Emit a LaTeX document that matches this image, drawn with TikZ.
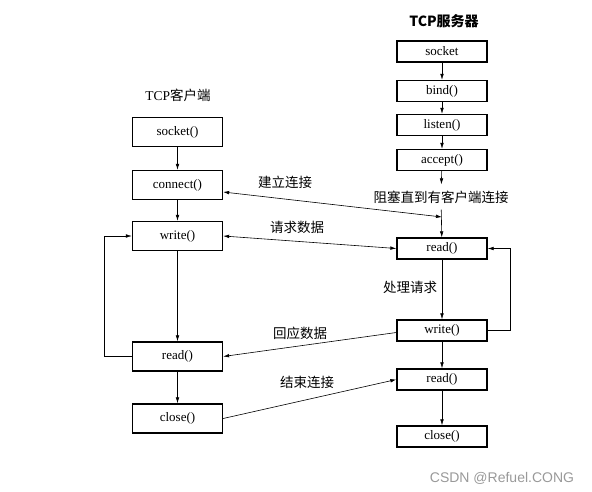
\documentclass[tikz,border=0pt]{standalone}
\usepackage{fontspec}
\setmainfont{Liberation Serif}
\setsansfont{Liberation Sans}
\newfontfamily\cjk{Noto Sans CJK SC}
\usepackage{tikz}
\usetikzlibrary{arrows.meta, positioning, calc}

\begin{document}
\begin{tikzpicture}[x=1pt, y=-1pt, >={Latex[length=6pt,width=3.6pt]}, line width=0.6pt,
        cbox/.style={draw, line width=1.3pt, minimum width=90pt, minimum height=29pt, inner sep=0pt, font=\fontsize{13}{15}\selectfont},
        sbox/.style={cbox, minimum height=21pt},
        lbl/.style={font=\cjk\fontsize{13.5}{15}\selectfont, inner sep=0pt}]
        \useasboundingbox (0,0) rectangle (592,492);
        % titles
        \node (tserv) at (444,21) {\cjk\bfseries\fontsize{14}{16}\selectfont TCP服务器};
        \node (tcli) at (178,95) {\fontsize{13.5}{16}\selectfont TCP{\cjk 客户端}};
        % client
        \node[cbox] (cs) at (177.5,132) {socket()};
        \node[cbox] (cc) at (177.5,185) {connect()};
        \node[cbox] (cw) at (177.5,236) {write()};
        \node[cbox] (cr) at (177.5,356.5) {read()};
        \node[cbox] (ccl) at (177.5,418.5) {close()};
        % server
        \node[sbox] (ss) at (442,51.5) {socket};
        \node[sbox] (sb) at (442,91) {bind()};
        \node[sbox] (sl) at (442,125) {listen()};
        \node[sbox] (sa) at (442,160) {accept()};
        \node[lbl, inner sep=6pt] (blk) at (441,197) {阻塞直到有客户端连接};
        \node[sbox] (sr) at (442,248.5) {read()};
        \node[sbox] (sw) at (442,330.5) {write()};
        \node[sbox] (sr2) at (442,379.5) {read()};
        \node[sbox] (scl) at (442,436.5) {close()};
        \coordinate (join) at (442,217);
        % labels
        \node[lbl] (l1) at (285,182) {建立连接};
        \node[lbl] (l2) at (297,227) {请求数据};
        \node[lbl] (l3) at (410,287) {处理请求};
        \node[lbl] (l4) at (300,333) {回应数据};
        \node[lbl] (l5) at (307,382) {结束连接};
        \node[font=\sffamily\fontsize{14}{16}\selectfont, text=black!40] (mark) at (502,478) {CSDN @Refuel.CONG};

        \draw[->] (cs) -- (cc);
        \draw[->] (cc) -- (cw);
        \draw[->] (cw) -- (cr);
        \draw[->] (cr) -- (ccl);
        \draw[->] (cr.west) -- ++(-28,0) |- (cw.west);

        \draw[->] (ss) -- (sb);
        \draw[->] (sb) -- (sl);
        \draw[->] (sl) -- (sa);
        \draw[->] (sa) -- (blk);
        \draw[->] (blk) -- (sr);
        \draw[->] (sr) -- (sw);
        \draw[->] (sw) -- (sr2);
        \draw[->] (sr2) -- (scl);
        \draw[->] (sw.east) -- ++(23,0) |- (sr.east);

        \draw[<->] ([yshift=-7pt]cc.east) -- (join);
        \draw[<->] (cw.east) -- (sr.west);
        \draw[->] ([yshift=-2pt]sw.west) -- (cr.east);
        \draw[->] (ccl.east) -- (sr2.west);
    \end{tikzpicture}
\end{document}
